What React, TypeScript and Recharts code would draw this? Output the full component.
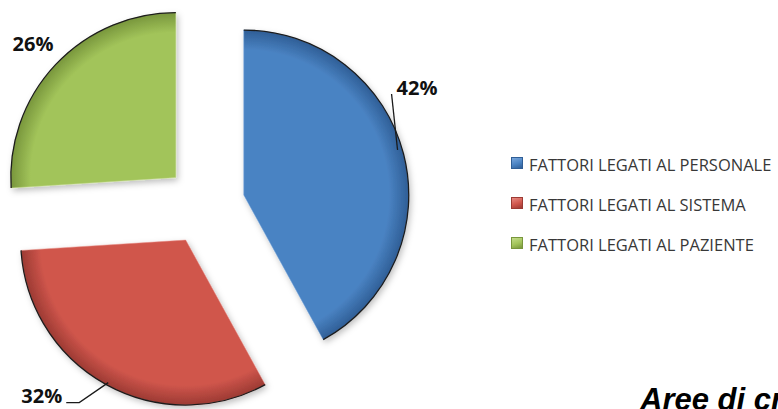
import React from 'react';
import { PieChart, Pie, Cell, Sector, Legend } from 'recharts';

const categories = ['FATTORI LEGATI AL PERSONALE', 'FATTORI LEGATI AL SISTEMA', 'FATTORI LEGATI AL PAZIENTE'];
const shares = [42, 32, 26];
const colors = ['#4a83c3', '#d0564c', '#a2c45a'];
const darkColors = ['#2f5e96', '#9c3a33', '#78963c'];
const lightColors = ['#7aa7dc', '#e88a82', '#c4dc8a'];

const data = categories.map((name, i) => ({ name, value: shares[i] }));

const EXPLODE = 40;
const RAD = Math.PI / 180;

// label placement relative to the point where the mid-angle meets the arc
const LABEL_LAYOUT = [
  { text: [-7, -59], anchor: 'start', leader: [[-6, -4], [-12, -60]] },
  { text: [-44, 18], anchor: 'end', leader: [[2, -2], [-27, 18], [-40, 18]] },
  { text: [-43, -14], anchor: 'start', leader: [] as number[][] },
];

const renderSlice = (props: any) => {
  const { cx, cy, outerRadius, startAngle, endAngle, midAngle, index, percent } = props;
  const ox = cx + EXPLODE * Math.cos(-midAngle * RAD);
  const oy = cy + EXPLODE * Math.sin(-midAngle * RAD);
  const pt = (a: number, r: number) => [ox + r * Math.cos(-a * RAD), oy + r * Math.sin(-a * RAD)];
  const [sx, sy] = pt(startAngle, outerRadius);
  const [ex, ey] = pt(endAngle, outerRadius);
  const large = Math.abs(startAngle - endAngle) > 180 ? 1 : 0;
  const [ax, ay] = pt(midAngle, outerRadius);
  const layout = LABEL_LAYOUT[index];
  const gid = `slice-grad-${index}`;
  const fid = `slice-shadow-${index}`;
  return (
    <g key={`slice-${index}`}>
      <defs>
        <radialGradient id={gid} cx={ox} cy={oy} r={outerRadius} gradientUnits="userSpaceOnUse">
          <stop offset="0%" stopColor={colors[index]} />
          <stop offset="88%" stopColor={colors[index]} />
          <stop offset="100%" stopColor={darkColors[index]} />
        </radialGradient>
        <filter id={fid} x="-20%" y="-20%" width="140%" height="140%">
          <feDropShadow dx="2" dy="3" stdDeviation="3" floodColor="#000" floodOpacity="0.25" />
        </filter>
      </defs>
      <Sector
        cx={ox}
        cy={oy}
        innerRadius={0}
        outerRadius={outerRadius}
        startAngle={startAngle}
        endAngle={endAngle}
        fill={`url(#${gid})`}
        stroke={lightColors[index]}
        strokeOpacity={0.5}
        strokeWidth={1}
        filter={`url(#${fid})`}
      />
      <path
        d={`M ${sx} ${sy} A ${outerRadius} ${outerRadius} 0 ${large} 1 ${ex} ${ey}`}
        fill="none"
        stroke="#1c1c1c"
        strokeWidth={1.3}
      />
      {layout.leader.length > 0 && (
        <polyline
          points={layout.leader.map(([dx, dy]) => `${ax + dx},${ay + dy}`).join(' ')}
          fill="none"
          stroke="#1a1a1a"
          strokeWidth={1.3}
        />
      )}
      <text
        x={ax + layout.text[0]}
        y={ay + layout.text[1]}
        textAnchor={layout.anchor as any}
        fontFamily="'Open Sans', sans-serif"
        fontWeight={700}
        fontSize={20}
        fill="#111"
      >
        {`${Math.round(percent * 100)}%`}
      </text>
    </g>
  );
};

// legend rows follow the data order, not the alphabetical order
const renderLegend = () => (
  <div>
    {categories.map((name, i) => (
      <div key={`leg-${i}`} style={{ display: 'flex', alignItems: 'center', height: 40 }}>
        <span
          style={{
            display: 'inline-block',
            width: 10,
            height: 10,
            marginRight: 6,
            marginTop: -3,
            border: `1px solid ${darkColors[i]}`,
            background: `linear-gradient(160deg, ${lightColors[i]}, ${colors[i]} 55%, ${darkColors[i]})`,
          }}
        />
        <span style={{ fontFamily: "'Open Sans', sans-serif", fontSize: 16.5, color: '#383838', whiteSpace: 'nowrap' }}>
          {name}
        </span>
      </div>
    ))}
  </div>
);

export default function App() {
  return (
    <div style={{ position: 'relative', width: 778, height: 409, overflow: 'hidden', background: '#fff' }}>
      <style>{'body{margin:0;}'}</style>
      <PieChart width={778} height={409} margin={{ top: 0, right: 0, bottom: 0, left: 0 }}>
        <Pie
          data={data}
          dataKey="value"
          nameKey="name"
          cx={205}
          cy={205}
          outerRadius={165}
          startAngle={90}
          endAngle={-270}
          stroke="none"
          labelLine={false}
          label={renderSlice}
          isAnimationActive={false}
        >
          {data.map((_, i) => (
            <Cell key={`cell-${i}`} fill={colors[i]} fillOpacity={0} />
          ))}
        </Pie>
        <Legend
          layout="vertical"
          verticalAlign="top"
          align="right"
          content={renderLegend}
          wrapperStyle={{ left: 511, right: 'auto', top: 144, width: 267 }}
        />
      </PieChart>
      <div
        style={{
          position: 'absolute',
          left: 640,
          top: 384,
          fontFamily: "'Liberation Sans', Arial, sans-serif",
          fontSize: 31,
          lineHeight: '31px',
          fontWeight: 700,
          fontStyle: 'italic',
          color: '#000',
          whiteSpace: 'nowrap',
        }}
      >
        Aree di criticità
      </div>
    </div>
  );
}
